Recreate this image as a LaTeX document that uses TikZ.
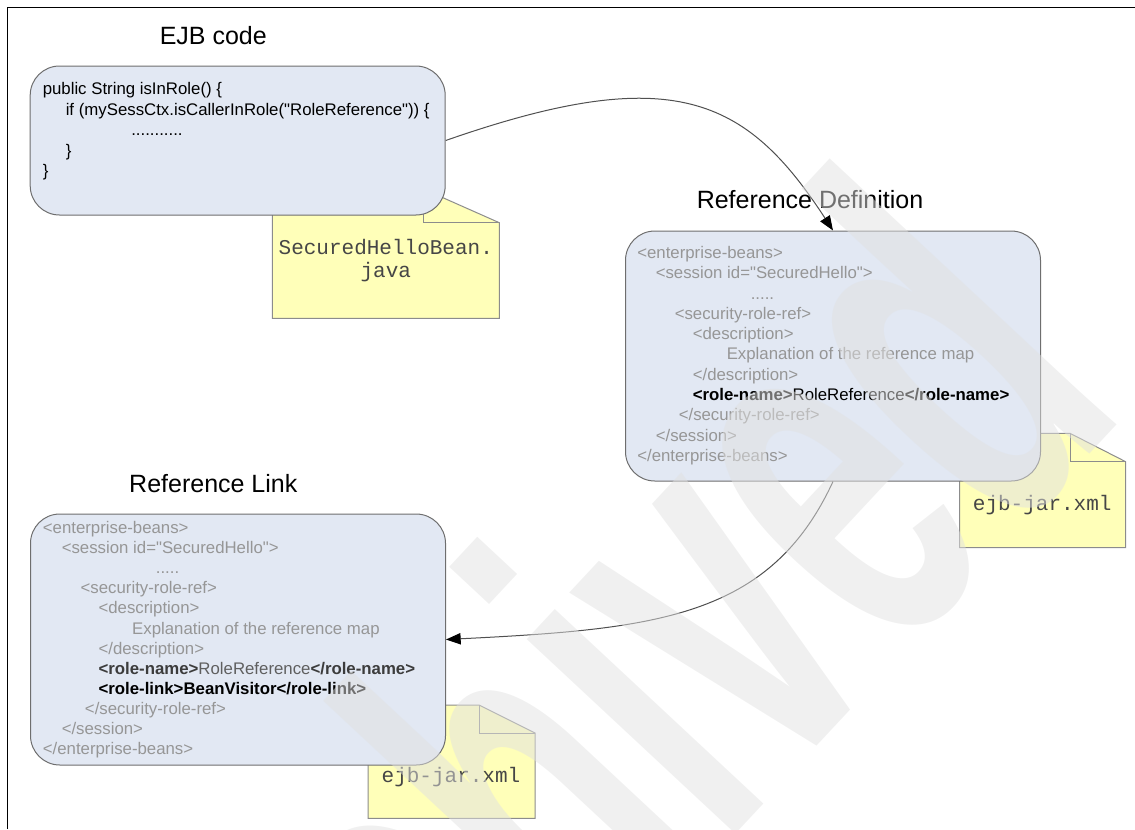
\documentclass[tikz,border=0pt]{standalone}
\usepackage{fontspec}
\setmainfont{Liberation Sans}
\newfontfamily\notefont{Liberation Mono}
\newfontfamily\qfont{Liberation Sans}
\usetikzlibrary{arrows.meta}
\newcommand{\mydq}{{\qfont\char34}}
\definecolor{boxfill}{RGB}{226,232,243}
\definecolor{boxdraw}{RGB}{110,110,110}
\definecolor{notefill}{RGB}{255,255,185}
\definecolor{notedraw}{RGB}{140,140,140}
\definecolor{xmlgray}{RGB}{150,150,150}
\definecolor{notetxt}{RGB}{70,70,70}
\definecolor{connc}{RGB}{80,80,80}
\definecolor{rltag}{RGB}{60,60,60}
\definecolor{rlref}{RGB}{95,95,95}
\definecolor{wmark}{RGB}{225,225,225}
\begin{document}
\begin{tikzpicture}[x=0.75pt,y=-0.75pt,
  box/.style={draw=boxdraw, fill=boxfill, rounded corners=22pt, line width=0.75pt, inner sep=0, minimum width=311.25pt},
  notebg/.style={draw=notedraw, fill=notefill, line width=0.75pt},
  xml/.style={anchor=base west, inner sep=0, text=xmlgray, font=\fontsize{12.6}{15}\selectfont},
  code/.style={anchor=base west, inner sep=0, font=\fontsize{12.6}{15}\selectfont},
  ttl/.style={anchor=base, inner sep=0, font=\fontsize{18.75}{22}\selectfont},
  notetext/.style={anchor=base, inner sep=0, text=notetxt, font=\notefont\fontsize{15.75}{19}\selectfont},
  conn/.style={draw=connc, line width=0.75pt, -{Triangle[length=11pt,width=8.5pt,color=black]}},
]
\useasboundingbox (0,0) rectangle (1135,829);

% notes (behind the boxes)
\draw[notebg] (272.3,189) -- (423.3,189) -- (499.3,222.7) -- (499.3,318.3) -- (272.3,318.3) -- cycle;
\draw[notedraw, line width=0.75pt] (423.3,189) -- (423.3,222.7) -- (499.3,222.7);
\draw[notebg] (959.6,433.3) -- (1070,433.3) -- (1125.7,461.7) -- (1125.7,547.7) -- (959.6,547.7) -- cycle;
\draw[notedraw, line width=0.75pt] (1070,433.3) -- (1070,461.7) -- (1125.7,461.7);
\draw[notebg] (368,705) -- (479,705) -- (535,733) -- (535,818.3) -- (368,818.3) -- cycle;
\draw[notedraw, line width=0.75pt] (479,705) -- (479,733) -- (535,733);

% boxes
\node[box, minimum height=111.75pt] (ejb) at (237.7,140.5) {};
\node[box, minimum height=187.5pt] (rd) at (833,356) {};
\node[box, minimum height=188.25pt] (rl) at (238,639.5) {};

% titles
\node[ttl] (t1) at (213.3,44) {EJB code};
\node[ttl] (t2) at (810,208) {Reference Definition};
\node[ttl] (t3) at (213.3,492.3) {Reference Link};

% EJB code
\node[code] (c1) at (42.5,94.5) {public String isInRole() \{};
\node[code] (c2) at (65.5,115) {if (mySessCtx.isCallerInRole(\mydq RoleReference\mydq)) \{};
\node[code] (c3) at (131,135.6) {...........};
\node[code] (c4) at (65.5,156.2) {\}};
\node[code] (c5) at (42.5,176.7) {\}};

% Reference Definition text
\foreach \dx/\t [count=\i] in {0/{<enterprise-beans>}, 18.5/{<session id=\mydq SecuredHello\mydq>}, 113.5/{.....}, 37.5/{<security-role-ref>}, 55.5/{<description>}, 89.5/{Explanation of the reference map}, 55.5/{</description>}, 55.5/{\textcolor{black}{\textbf{<role-name>}RoleReference\textbf{</role-name>}}}, 41.5/{</security-role-ref>}, 18.5/{</session>}, 0/{</enterprise-beans>}}
  \node[xml] (rd\i) at (637+\dx, 258.5+20.28*\i-20.28) {\t};

% Reference Link text
\foreach \dx/\t [count=\i] in {0/{<enterprise-beans>}, 18.9/{<session id=\mydq SecuredHello\mydq>}, 113/{.....}, 37.8/{<security-role-ref>}, 55.7/{<description>}, 89.3/{Explanation of the reference map}, 55.7/{</description>}, 55.7/{\textbf{\textcolor{rltag}{<role-name>}}\textcolor{rlref}{RoleReference}\textbf{\textcolor{rltag}{</role-name>}}}, 55.7/{\textcolor{black}{\textbf{<role-link>BeanVisitor</role-link>}}}, 42.1/{</security-role-ref>}, 18.9/{</session>}, 0/{</enterprise-beans>}}
  \node[xml] (rl\i) at (42.6+\dx, 533.3+20.15*\i-20.15) {\t};

% note texts
\node[notetext] (n1a) at (385.8,254) {SecuredHelloBean.};
\node[notetext] (n1b) at (385.8,277.5) {java};
\node[notetext] (n2) at (1042.2,510.7) {ejb-jar.xml};
\node[notetext] (n3) at (451,782) {ejb-jar.xml};

% connectors
\draw[conn] (ejb.east) .. controls +(226,-79) and +(-87,-134) .. (rd.north);
\draw[conn] (rd.south) .. controls +(-63,136.5) and +(210,-10.5) .. (rl.east);

% watermark
\begin{scope}
  \clip (0,0) rectangle (1135,829);
  \node[rotate=47, anchor=base east, inner sep=0, text=wmark, opacity=0.5, font=\bfseries\fontsize{405}{405}\selectfont] (wm) at (1131,410) {\scalebox{0.556}[1]{Archived}};
\end{scope}

% frame
\coordinate (fbl) at (7.3,829);
\coordinate (ftl) at (7.3,7.3);
\coordinate (ftr) at (1135,7.3);
\draw[line width=1.1pt] (fbl) -- (ftl) -- (ftr);
\end{tikzpicture}
\end{document}
